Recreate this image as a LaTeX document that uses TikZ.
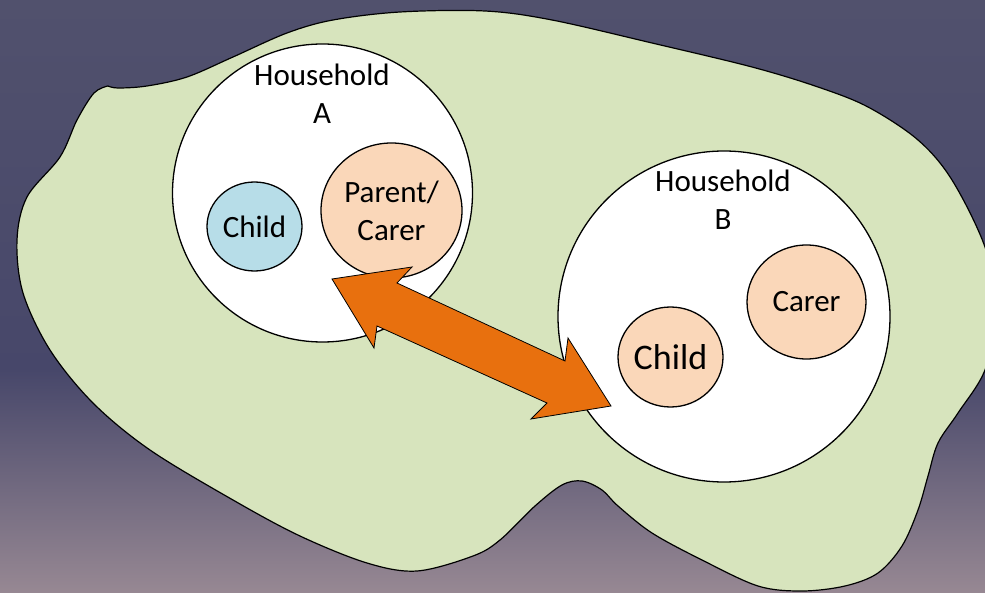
\documentclass[tikz,border=0pt]{standalone}
\usepackage{fontspec}
\setmainfont{Carlito}
\usetikzlibrary{shapes.geometric}
\definecolor{bgtop}{HTML}{51516D}
\definecolor{bgmid}{HTML}{47476A}
\definecolor{bgbot}{HTML}{978893}
\definecolor{blobgreen}{HTML}{D7E4BD}
\definecolor{childblue}{HTML}{B7DDE8}
\definecolor{peach}{HTML}{FAD7B9}
\definecolor{arroworange}{HTML}{E8700E}
\tikzset{
  oval/.style={ellipse, draw=black, line width=1.3pt, inner sep=-20pt,
    align=center, font=\fontsize{31}{38}\selectfont},
  household/.style={oval, fill=white},
  person/.style={oval, fill=peach},
  kid/.style={oval, fill=childblue},
  hhlabel/.style={align=center, inner sep=0pt, font=\fontsize{31}{38}\selectfont},
  blob/.style={fill=blobgreen, draw=black, line width=1.2pt, line join=round},
  bigarrow/.style={fill=arroworange, draw=black, line width=0.8pt, line join=miter}
}
\begin{document}
\begin{tikzpicture}[x=1pt,y=-1pt]
\useasboundingbox (0,0) rectangle (985,593);
% background
\shade[top color=bgtop, bottom color=bgmid] (0,0) rectangle (985,371);
\shade[top color=bgmid, bottom color=bgbot] (0,370) rectangle (985,593);
% community region (with a small kink at its upper left)
\begin{scope}
\clip (0,0) rectangle (985,593);
\draw[blob] plot[smooth, tension=0.55] coordinates {
  (108,86) (118,88) (147,86) (187,77) (233,57) (287,33) (333,20) (400,12) (485,11)
  (552,20) (652,43) (752,67) (818,87) (868,107) (918,140) (952,180) (985,247)
  (998,310) (985,370) (958,413) (938,443) (928,476) (918,510) (902,546)
  (878,573) (845,586) (802,591) (758,586) (702,560) (652,533) (618,506)
  (602,490) (582,481) (562,485) (535,506) (500,540) (473,556) (417,571)
  (367,563) (300,536) (233,500) (150,450) (93,403) (50,350) (23,293)
  (17,240) (27,197) (60,157) (77,120) (94,93) (108,86)} -- cycle;
\end{scope}
% household A
\node[household, minimum width=300pt, minimum height=298pt] (hhA) at (322.5,193) {};
\node[hhlabel] (hhAlabel) at (322,94) {Household\\A};
\node[kid, minimum width=95pt, minimum height=89pt] (childA) at (254.5,226.5) {Child};
\node[person, minimum width=141pt, minimum height=135pt] (parentA) at (391.5,210.5) {Parent/\\Carer};
% household B
\node[household, minimum width=332pt, minimum height=331pt] (hhB) at (724,316.5) {};
\node[hhlabel] (hhBlabel) at (723,200) {Household\\B};
\node[person, minimum width=119pt, minimum height=114pt] (carerB) at (806.5,302) {Carer};
\node[person, minimum width=105pt, minimum height=100pt, font=\fontsize{36}{43}\selectfont] (childB) at (670.5,357) {Child};
% two-way link between the households
\draw[bigarrow] (332,279) -- (412,267) -- (397,283) -- (565,361) -- (568,338)
  -- (611,406) -- (531,419) -- (547,403) -- (377,326) -- (374,348) -- cycle;
\end{tikzpicture}
\end{document}
